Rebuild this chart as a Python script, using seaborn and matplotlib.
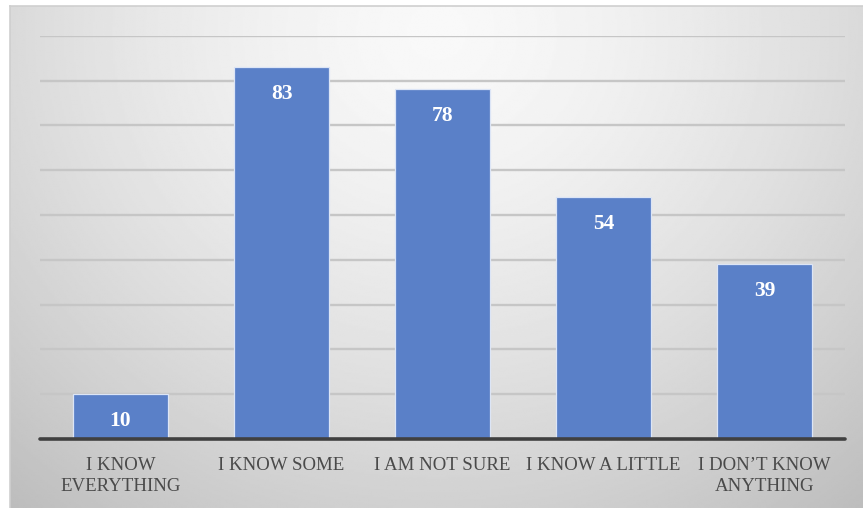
import numpy as np
import pandas as pd
import matplotlib
matplotlib.use("Agg")
import matplotlib.pyplot as plt
import seaborn as sns

categories = ["I KNOW\nEVERYTHING", "I KNOW SOME", "I AM NOT SURE",
              "I KNOW A LITTLE", "I DON\u2019T KNOW\nANYTHING"]
counts = [10, 83, 78, 54, 39]

df = pd.DataFrame({"answer": categories, "count": counts})

sns.set_theme(style="white")
plt.rcParams["font.family"] = ["Liberation Serif", "DejaVu Serif"]

W, H = 863, 508
fig = plt.figure(figsize=(W / 100, H / 100), dpi=100)
fig.patch.set_facecolor("white")

# gradient panel behind the chart
bg = fig.add_axes([10 / W, 0, 1 - 10 / W, 1 - 6 / H], zorder=0)
yy, xx = np.mgrid[0:1:300j, 0:1:500j]
d = np.sqrt(((xx - 0.5) / 0.72) ** 2 + ((yy - 0.05) / 1.15) ** 2)
shade = 0.975 - 0.21 * np.clip(d, 0, 1.2) ** 1.5
bg.imshow(shade, cmap="gray", vmin=0, vmax=1, aspect="auto",
          extent=[0, 1, 1, 0], interpolation="bilinear")
bg.set_xlim(0, 1)
bg.set_ylim(1, 0)
bg.set_xticks([])
bg.set_yticks([])
for side in ["right", "bottom"]:
    bg.spines[side].set_visible(False)
for side in ["top", "left"]:
    bg.spines[side].set_color("#cfcfcf")
    bg.spines[side].set_linewidth(1.2)

ax = fig.add_axes([40 / W, 1 - 439 / H, (845 - 40) / W, (439 - 35.7) / H], zorder=1)
ax.patch.set_alpha(0)

sns.barplot(data=df, x="answer", y="count", color="#5A80C8", saturation=1,
            width=0.59, edgecolor="#dce5f6", linewidth=0.9, ax=ax, zorder=3)

ax.set_ylim(0, 90)
ax.set_xlim(-0.5, len(categories) - 0.5)
ax.set_yticks(np.arange(10, 91, 10))
ax.yaxis.grid(True, color="#c6c6c6", linewidth=1.7, zorder=1)
ax.set_axisbelow(True)
ax.tick_params(axis="y", left=False, labelleft=False)
ax.tick_params(axis="x", bottom=False, pad=7, labelsize=13.6, labelcolor="#4a4a4a")
for lbl in ax.get_xticklabels():
    lbl.set_linespacing(1.3)
    lbl.set_va("top")
ax.set_xlabel("")
ax.set_ylabel("")
for s in ax.spines.values():
    s.set_visible(False)
ax.axhline(0, color="#404040", linewidth=2.6, zorder=4, clip_on=False)

for i, v in enumerate(counts):
    ax.annotate(str(v), (i, v), xytext=(0, -12), textcoords="offset points",
                ha="center", va="top", color="white", fontsize=15.5,
                fontweight="bold", zorder=5)

fig.savefig("out.png", dpi=100)
